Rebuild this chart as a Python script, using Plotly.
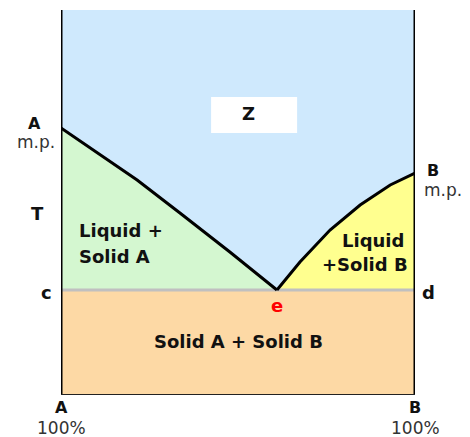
import plotly.graph_objects as go

# composition in % B, temperature in arbitrary units
left_x = [0, 11, 21.5, 33.6, 47.7, 61]
left_t = [267, 240, 215, 182, 143, 105]
right_x = [61, 67.5, 76, 84.5, 93, 100]
right_t = [105, 133, 165, 190, 210, 222]
eutectic_t = 105
t_top = 385

blue = "#cfe9fd"
green = "#d4f7d0"
yellow = "#ffff8f"
orange = "#fdd9a5"

fig = go.Figure()

# liquid region
fig.add_trace(go.Scatter(
    x=[0] + left_x + right_x[1:] + [100, 0],
    y=[t_top] + left_t + right_t[1:] + [t_top, t_top],
    fill="toself", fillcolor=blue, line=dict(width=0), mode="lines", hoverinfo="skip"))
# liquid + solid A
fig.add_trace(go.Scatter(
    x=left_x + [0, 0], y=left_t + [eutectic_t, left_t[0]],
    fill="toself", fillcolor=green, line=dict(width=0), mode="lines", hoverinfo="skip"))
# liquid + solid B
fig.add_trace(go.Scatter(
    x=right_x + [100, 61], y=right_t + [eutectic_t, eutectic_t],
    fill="toself", fillcolor=yellow, line=dict(width=0), mode="lines", hoverinfo="skip"))
# solid A + solid B
fig.add_trace(go.Scatter(
    x=[0, 100, 100, 0, 0], y=[0, 0, eutectic_t, eutectic_t, 0],
    fill="toself", fillcolor=orange, line=dict(width=0), mode="lines", hoverinfo="skip"))
# eutectic line
fig.add_trace(go.Scatter(x=[0, 100], y=[eutectic_t, eutectic_t], mode="lines",
                         line=dict(color="#c0c0c0", width=3), hoverinfo="skip"))
# liquidus curves
fig.add_trace(go.Scatter(x=left_x, y=left_t, mode="lines",
                         line=dict(color="black", width=3), hoverinfo="skip"))
fig.add_trace(go.Scatter(x=right_x, y=right_t, mode="lines",
                         line=dict(color="black", width=3), hoverinfo="skip"))

shapes = [
    dict(type="line", x0=0, x1=0, y0=-3, y1=t_top, line=dict(color="black", width=3)),
    dict(type="line", x0=100, x1=100, y0=-3, y1=t_top, line=dict(color="black", width=3)),
    dict(type="line", x0=0, x1=100, y0=0, y1=0, line=dict(color="#222", width=2)),
    dict(type="rect", x0=42.4, x1=66.7, y0=262, y1=298, fillcolor="white", line=dict(width=0)),
]

bold = dict(family="DejaVu Sans", size=18, color="#111", weight="bold")
small_bold = dict(bold, size=16)
thin = dict(family="DejaVu Sans", size=17, color="#333")

labels = [
    ("A", -7.6, 272, small_bold, "center"),
    ("m.p.", -7.1, 253, thin, "center"),
    ("T", -6.5, 182, bold, "center"),
    ("c", -4, 103, bold, "center"),
    ("d", 103.7, 103, bold, "center"),
    ("B", 105, 225, small_bold, "center"),
    ("m.p.", 108, 205, thin, "center"),
    ("Liquid +", 4.8, 165, bold, "left"),
    ("Solid A", 4.8, 139, bold, "left"),
    ("Liquid", 88, 155, bold, "center"),
    ("+Solid B", 86, 131, bold, "center"),
    ("e", 61, 90, dict(bold, color="red"), "center"),
    ("Solid A + Solid B", 50, 54, bold, "center"),
    ("Z", 53.1, 281, bold, "center"),
    ("A", 0, -13, small_bold, "center"),
    ("100%", 0, -33, thin, "center"),
    ("B", 100, -13, small_bold, "center"),
    ("100%", 100, -33, thin, "center"),
]
# paper coordinates so labels outside the axes are still drawn
annotations = [dict(text=t, x=x / 100, y=y / t_top, xref="paper", yref="paper", showarrow=False,
                    font=f, xanchor=a, yanchor="middle", borderpad=0) for t, x, y, f, a in labels]

# page body has an 8px margin, so the figure is shrunk by that much
fig.update_layout(
    width=462, height=429,
    margin=dict(l=53, r=55, t=2, b=42),
    paper_bgcolor="white", plot_bgcolor="white",
    showlegend=False,
    xaxis=dict(range=[0, 100], visible=False, fixedrange=True),
    yaxis=dict(range=[0, t_top], visible=False, fixedrange=True),
    shapes=shapes, annotations=annotations,
)

fig.write_html("out.html")
